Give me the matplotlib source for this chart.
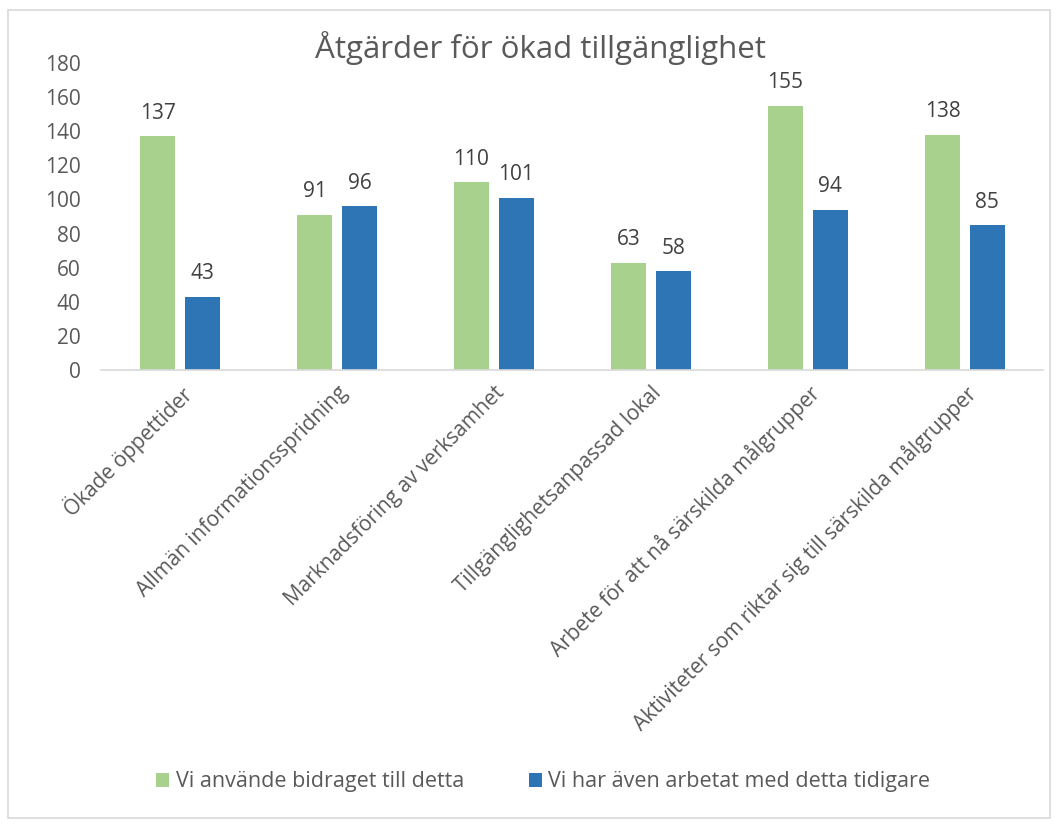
import numpy as np
import matplotlib
matplotlib.use("Agg")
import matplotlib.pyplot as plt
from matplotlib.patches import Rectangle

categories = [
    "Ökade öppettider",
    "Allmän informationsspridning",
    "Marknadsföring av verksamhet",
    "Tillgänglighetsanpassad lokal",
    "Arbete för att nå särskilda målgrupper",
    "Aktiviteter som riktar sig till särskilda målgrupper",
]
used_grant = [137, 91, 110, 63, 155, 138]
worked_before = [43, 96, 101, 58, 94, 85]
series_names = ["Vi använde bidraget till detta", "Vi har även arbetat med detta tidigare"]

green = "#A9D18E"
blue = "#2E75B6"
axis_grey = "#595959"
label_grey = "#404040"

plt.rcParams['font.family'] = ['Open Sans', 'DejaVu Sans']

fig = plt.figure(figsize=(10.59, 8.25), dpi=100)
fig.patches.append(Rectangle((8 / 1059, 1 - 818 / 825), 1042 / 1059, 808 / 825,
                             transform=fig.transFigure, fill=False,
                             edgecolor="#D9D9D9", linewidth=1.2))

ax = fig.add_axes([0.0958, 0.5515, 0.8895, 0.3721])
x = np.arange(len(categories))
w = 0.223
off = 0.143
b1 = ax.bar(x - off, used_grant, w, color=green, label=series_names[0])
b2 = ax.bar(x + off, worked_before, w, color=blue, label=series_names[1])

# value labels above bars
for bars in (b1, b2):
    for r in bars:
        ax.annotate(f"{int(r.get_height())}", (r.get_x() + r.get_width() / 2, r.get_height()),
                    xytext=(0, 9), textcoords="offset points", ha="center", va="bottom",
                    fontsize=15, color=label_grey)

ax.set_xlim(-0.5, len(categories) - 0.5)
ax.set_ylim(0, 180)
ax.set_yticks(range(0, 181, 20))
ax.tick_params(axis="y", length=0, labelsize=15, labelcolor=axis_grey, pad=15)
ax.tick_params(axis="x", length=0, pad=9)
ax.set_xticks(x)
ax.set_xticklabels(categories, rotation=45, ha="right", rotation_mode="anchor",
                   fontsize=15, color=axis_grey)
for s in ("top", "right", "left"):
    ax.spines[s].set_visible(False)
ax.spines["bottom"].set_color("#D9D9D9")
ax.spines["bottom"].set_linewidth(1.2)

fig.text(0.51, 1 - 48 / 825, "Åtgärder för ökad tillgänglighet", ha="center", va="center",
         fontsize=22.5, color=axis_grey)

leg = fig.legend(handles=[b1, b2], loc="center", bbox_to_anchor=(0.513, 1 - 782 / 825),
                 ncol=2, frameon=False, handlelength=0.6, handleheight=0.6,
                 handletextpad=0.3, columnspacing=3.0, fontsize=15.5)
for t in leg.get_texts():
    t.set_color(axis_grey)

fig.savefig("out.png", dpi=100)
